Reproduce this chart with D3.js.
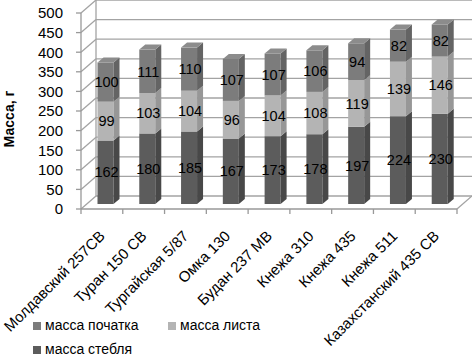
<!DOCTYPE html>
<html><head><meta charset="utf-8">
<script src="https://cdn.jsdelivr.net/npm/d3@7"></script>
<style>body{margin:0;background:#fff}svg{display:block}text{font-family:"Liberation Sans",Arial,sans-serif;fill:#000}</style>
</head><body><svg id="c" width="472" height="357"></svg>
<script>
const categories = ["Молдавский 257CB","Туран 150 CB","Тургайская 5/87","Омка 130","Будан 237 MB","Кнежа 310","Кнежа 435","Кнежа 511","Казахстанский 435 CB"];
const stem = [162,180,185,167,173,178,197,224,230];
const leaf = [99,103,104,96,104,108,119,139,146];
const ear  = [100,111,110,107,107,106,94,82,82];
const yTicks = [0,50,100,150,200,250,300,350,400,450,500];
const seriesNames = ["масса початка","масса листа","масса стебля"];

const svg = d3.select("#c");
const x = d3.scaleBand().domain(categories).range([81,457]);
const y = d3.scaleLinear().domain([0,500]).range([209,13]);
const wallDx = 15, wallDy = 13;   // depth of walls
const barDx = 6, barDy = 5;       // depth of bars
const barShiftY = 5;              // bars sit slightly back
const grid = "#a3a3a3";

// back wall gridlines + left wall diagonals
const g = svg.append("g").attr("stroke",grid).attr("stroke-width",1.3).attr("fill","none");
yTicks.forEach(v=>{
  g.append("line").attr("x1",x.range()[0]+wallDx).attr("x2",472).attr("y1",y(v)-wallDy).attr("y2",y(v)-wallDy);
  g.append("line").attr("x1",x.range()[0]).attr("x2",x.range()[0]+wallDx).attr("y1",y(v)).attr("y2",y(v)-wallDy);
});
g.append("line").attr("x1",81+wallDx).attr("x2",81+wallDx).attr("y1",y(0)-wallDy).attr("y2",y(500)-wallDy);
// floor
g.append("line").attr("x1",457).attr("x2",457+wallDx).attr("y1",y(0)).attr("y2",y(0)-wallDy);

// axes
const ax = svg.append("g").attr("stroke","#999").attr("stroke-width",1.3);
ax.append("line").attr("x1",81).attr("x2",81).attr("y1",y(0)).attr("y2",y(500));
ax.append("line").attr("x1",81).attr("x2",457).attr("y1",y(0)).attr("y2",y(0));
yTicks.forEach(v=>ax.append("line").attr("x1",76).attr("x2",81).attr("y1",y(v)).attr("y2",y(v)));
const bounds = categories.map(c=>x(c)).concat([x.range()[1]]);
bounds.forEach(b=>ax.append("line").attr("x1",b).attr("x2",b).attr("y1",y(0)).attr("y2",y(0)+5));

// y tick labels
svg.append("g").selectAll("text").data(yTicks).join("text")
  .attr("x",63).attr("y",v=>y(v)).attr("dy","0.36em").attr("text-anchor","end")
  .attr("font-size",15).text(d=>d);

// y title
svg.append("text").attr("transform","translate(14,119) rotate(-90)").attr("text-anchor","middle")
  .attr("font-size",14).attr("font-weight","bold").text("Масса, г");

// bars
const colors = {
  stem:{front:"#5c5c5c",side:"#484848",top:"#6c6c6c"},
  leaf:{front:"#b4b4b4",side:"#979797",top:"#c2c2c2"},
  ear:{front:"#7c7c7c",side:"#646464",top:"#8c8c8c"}
};
const barW = 16;
const bars = svg.append("g");
const labels = svg.append("g");
categories.forEach((c,i)=>{
  const segs = [["stem",stem[i]],["leaf",leaf[i]],["ear",ear[i]]];
  let base = 0;
  const x0 = x(c) + 16.5;
  segs.forEach(([k,v],j)=>{
    const yb = y(base)-barShiftY, yt = y(base+v)-barShiftY;
    const col = colors[k];
    bars.append("rect").attr("x",x0).attr("y",yt).attr("width",barW).attr("height",yb-yt).attr("fill",col.front);
    bars.append("path").attr("d",`M${x0+barW},${yb}L${x0+barW+barDx},${yb-barDy}L${x0+barW+barDx},${yt-barDy}L${x0+barW},${yt}Z`).attr("fill",col.side);
    if(j===segs.length-1){
      bars.append("path").attr("d",`M${x0},${yt}L${x0+barDx},${yt-barDy}L${x0+barW+barDx},${yt-barDy}L${x0+barW},${yt}Z`).attr("fill",col.top);
    }
    labels.append("text").attr("x",x0+barW/2+1).attr("y",(yb+yt)/2).attr("dy","0.36em")
      .attr("text-anchor","middle").attr("font-size",14.5).text(v);
    base += v;
  });
});

// category labels
svg.append("g").selectAll("text").data(categories).join("text")
  .attr("transform",d=>`translate(${x(d)+x.bandwidth()/2+4},${y(0)+28}) rotate(-45)`)
  .attr("text-anchor","end").attr("font-size",15).text(d=>d);

// legend
const leg = [
  {name:seriesNames[0],c:colors.ear.front,x:33,y:330},
  {name:seriesNames[1],c:colors.leaf.front,x:168,y:330},
  {name:seriesNames[2],c:colors.stem.front,x:33,y:354}
];
leg.forEach(l=>{
  svg.append("rect").attr("x",l.x).attr("y",l.y-8).attr("width",8).attr("height",8).attr("fill",l.c);
  svg.append("text").attr("x",l.x+12).attr("y",l.y).attr("font-size",14).text(l.name);
});
</script></body></html>
